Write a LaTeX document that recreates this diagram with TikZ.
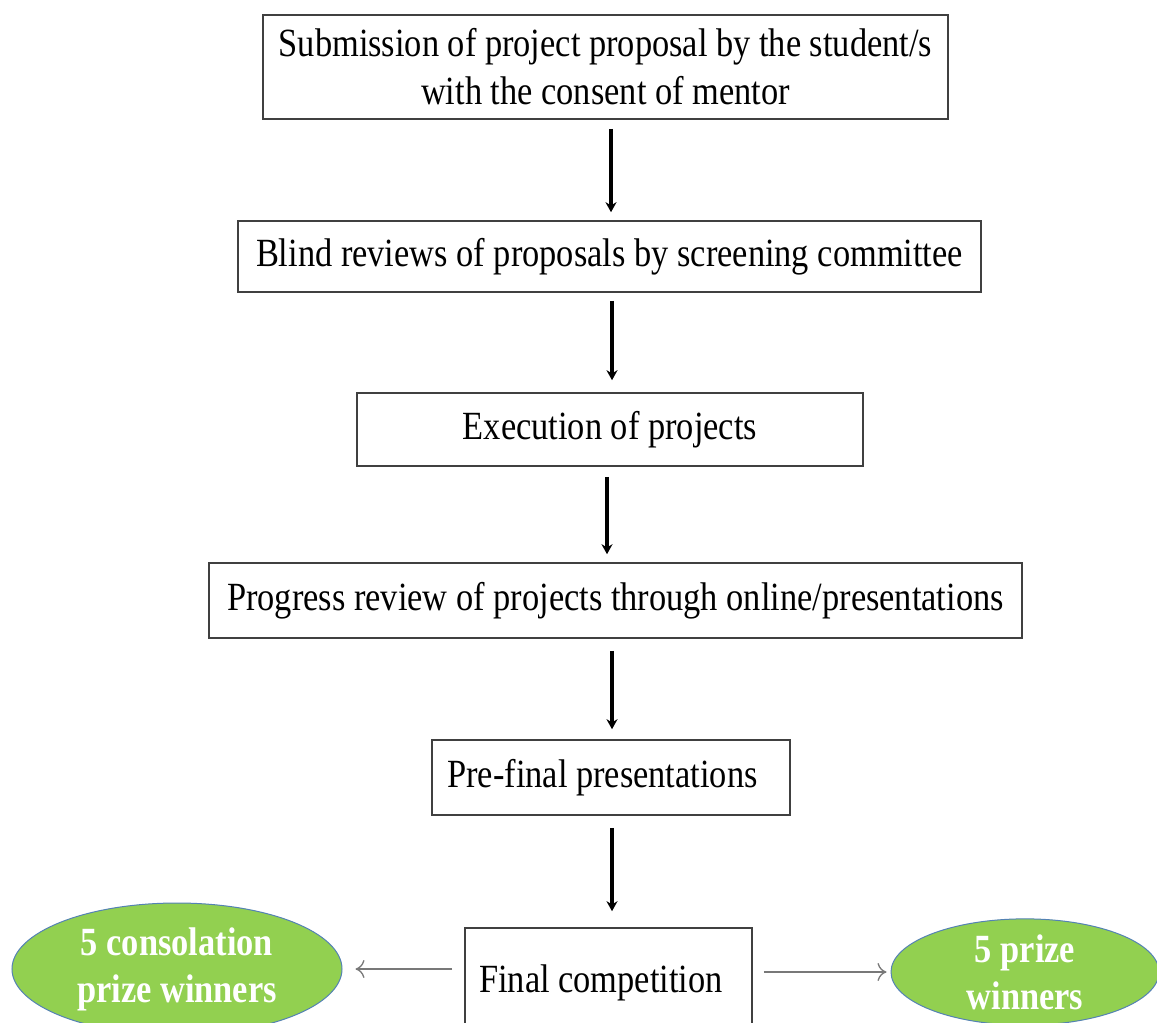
\documentclass[tikz,border=0pt]{standalone}
\usepackage{fontspec}
\setmainfont[FakeStretch=0.86]{Liberation Serif}
\usetikzlibrary{arrows.meta,shapes.geometric,calc}

\definecolor{prizegreen}{RGB}{146,208,80}
\definecolor{ellipseedge}{RGB}{84,130,180}
\definecolor{sidegray}{RGB}{120,120,120}

\tikzset{
  stepbox/.style={draw=black!75, line width=1.6pt, fill=white, inner sep=0pt,
    align=center, font=\fontsize{40}{48}\selectfont},
  prize/.style={ellipse, draw=ellipseedge, line width=1pt, fill=prizegreen,
    inner sep=0pt, align=center, text=white,
    font=\fontsize{40}{47}\selectfont\bfseries},
  flow/.style={line width=4pt, -{Stealth[length=10pt,width=11pt]}},
  side/.style={draw=sidegray, line width=1.3pt, -{To[length=9pt,width=18pt]}},
}

\begin{document}
\begin{tikzpicture}[x=1pt,y=-1pt]
  \clip (0,0) rectangle (1157,1023);
  \fill[white] (0,0) rectangle (1157,1023);

  % process steps
  \node[stepbox, minimum width=685pt, minimum height=104pt] (s1) at (605.5,67)
    {Submission of project proposal by the student/s\\with the consent of mentor};
  \node[stepbox, minimum width=743pt, minimum height=71pt] (s2) at (609.5,256.5)
    {Blind reviews of proposals by screening committee};
  \node[stepbox, minimum width=506pt, minimum height=73pt] (s3) at (610,429.5)
    {Execution of projects};
  \node[stepbox, minimum width=813pt, minimum height=75pt] (s4) at (615.5,600.5)
    {Progress review of projects through online/presentations};
  \node[stepbox, minimum width=358pt, minimum height=75pt] (s5) at (611,777.5)
    {\hspace*{-17pt}Pre-final presentations};
  \node[stepbox, minimum width=287pt, text height=64pt, text depth=60pt,
    anchor=base] (s6) at (608.5,992) {\hspace*{-15pt}Final competition};

  % outcomes
  \node[prize, minimum width=330pt, minimum height=132pt] (cons) at (177,969)
    {5 consolation\\prize winners};
  \node[prize, minimum width=268pt, minimum height=102pt] (win) at (1025,972)
    {5 prize\\winners};

  % connectors
  \draw[flow, shorten <=9pt, shorten >=8pt]
    ([xshift=5.5pt]s1.south) -- ([xshift=5.5pt]s1.south |- s2.north);
  \draw[flow, shorten <=8pt, shorten >=12pt]
    ([xshift=2.5pt]s2.south) -- ([xshift=2.5pt]s2.south |- s3.north);
  \draw[flow, shorten <=10pt, shorten >=8pt]
    ([xshift=-3pt]s3.south) -- ([xshift=-3pt]s3.south |- s4.north);
  \draw[flow, shorten <=12pt, shorten >=10pt]
    ([xshift=-3.5pt]s4.south) -- ([xshift=-3.5pt]s4.south |- s5.north);
  \draw[flow, shorten <=12pt, shorten >=16pt]
    ([xshift=1pt]s5.south) -- ([xshift=1pt]s5.south |- s6.north);
  \draw[side, shorten <=12pt, shorten >=13pt] (s6.west |- cons.east) -- (cons.east);
  \draw[side, shorten <=11pt, shorten >=4pt] (s6.east |- win.west) -- (win.west);
\end{tikzpicture}
\end{document}
